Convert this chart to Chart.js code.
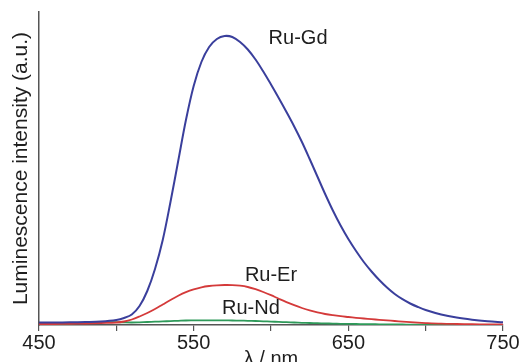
<!DOCTYPE html>
<html><head><meta charset="utf-8">
<script src="https://cdn.jsdelivr.net/npm/chart.js@4/dist/chart.umd.min.js"></script>
<style>html,body{margin:0;padding:0;background:#fff}</style>
</head><body>
<canvas id="c" width="520" height="362"></canvas>
<script>
const wavelengths = [450,460,470,480,490,500,505,510,515,520,525,530,535,540,545,550,555,560,565,570,575,580,585,590,595,600,605,610,615,620,625,630,635,640,645,650,655,660,665,670,675,680,685,690,695,700,710,720,730,740,750];
const ruGd = [2.5,2.5,2.7,3,3.5,5,7,10.5,19,34,56,85,123,164,205,239,263,278,286,289,288,283,275.5,265.5,253.5,240.5,227,213,198.5,183,166,148.5,131,114.5,99.5,86,74,63,53.5,45,37.5,31,25.8,21.5,18,15,10.5,7.4,5.3,3.8,2.7];
const ruEr = [1,1,1.2,1.5,2,2.5,3.5,5.5,8.5,12,16,20.5,25,29.2,32.8,35.6,37.7,39,39.7,40,39.9,39.3,38,35.8,33,29.8,26.3,22.9,19.8,17,14.6,12.6,11,9.8,8.8,8,7.2,6.5,5.8,5.2,4.6,4,3.4,2.8,2.3,1.9,1.3,1,0.8,0.6,0.5];
const ruNd = [0.8,1,1.5,2.2,3,2.8,2.6,2.5,2.7,3,3.3,3.6,3.9,4.2,4.5,4.6,4.7,4.7,4.7,4.6,4.5,4.4,4.2,4,3.7,3.4,3.1,2.8,2.5,2.2,2,1.8,1.6,1.4,1.2,1.1,1,0.9,0.8,0.7,0.6,0.5,0.5,0.4,0.4,0.3,0.2,0.2,0.1,0.1,0.1];
const seriesNames = ['Ru-Gd','Ru-Er','Ru-Nd'];
const xTickLabels = [450,550,650,750];

const FONT = '"Liberation Sans", Arial, Helvetica, sans-serif';
const toPts = arr => arr.map((v,i)=>({x:wavelengths[i], y:v}));

const labelAnchors = [
  {text: seriesNames[0], x: 617.5, y: 287},
  {text: seriesNames[1], x: 600, y: 50},
  {text: seriesNames[2], x: 587, y: 17}
];

const curveLabelPlugin = {
  id: 'curveLabels',
  afterDatasetsDraw(chart) {
    const {ctx, scales:{x, y}} = chart;
    ctx.save();
    ctx.font = '20px ' + FONT;
    ctx.fillStyle = '#1e1e1e';
    ctx.textAlign = 'center';
    ctx.textBaseline = 'middle';
    labelAnchors.forEach(l => ctx.fillText(l.text, x.getPixelForValue(l.x), y.getPixelForValue(l.y)));
    ctx.restore();
  }
};

new Chart(document.getElementById('c'), {
  type: 'line',
  data: {
    datasets: [
      {label: seriesNames[0], data: toPts(ruGd), borderColor: '#3a3f9c', borderWidth: 2},
      {label: seriesNames[1], data: toPts(ruEr), borderColor: '#d43a3a', borderWidth: 1.8},
      {label: seriesNames[2], data: toPts(ruNd), borderColor: '#2f9a5a', borderWidth: 1.8}
    ]
  },
  options: {
    responsive: false,
    animation: false,
    devicePixelRatio: 1,
    layout: {padding: {top: 12, right: 17, left: 0, bottom: 0}},
    elements: {point: {radius: 0}, line: {tension: 0.35, cubicInterpolationMode: 'default', capBezierPoints: true}},
    plugins: {legend: {display: false}, tooltip: {enabled: false}},
    scales: {
      x: {
        type: 'linear', min: 450, max: 750,
        grid: {display: true, drawOnChartArea: false, drawTicks: true, tickLength: 6, color: '#555', lineWidth: 1.2},
        border: {display: true, color: '#555', width: 1.5},
        ticks: {
          stepSize: 50, autoSkip: false, maxRotation: 0, padding: 0,
          color: '#1e1e1e', font: {family: FONT, size: 20},
          callback: v => xTickLabels.includes(v) ? String(v) : ''
        },
        title: {display: true, text: 'λ / nm', color: '#1e1e1e', font: {family: FONT, size: 20}, padding: {top: 0, bottom: -9}},
        afterFit: s => { s.height = 37; }
      },
      y: {
        min: 0, max: 313,
        grid: {display: false, drawTicks: false},
        border: {display: true, color: '#555', width: 1.5},
        ticks: {display: false},
        title: {display: true, text: 'Luminescence intensity (a.u.)', color: '#1e1e1e', font: {family: FONT, size: 21}, padding: {top: 8.4, bottom: 5}},
        afterFit: s => { s.width = 39; }
      }
    }
  },
  plugins: [curveLabelPlugin]
});
</script>
</body></html>
